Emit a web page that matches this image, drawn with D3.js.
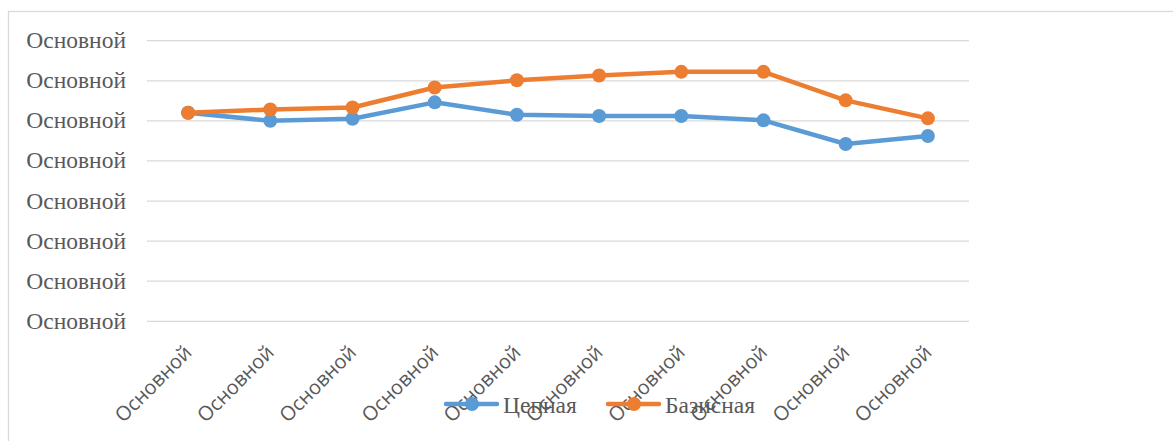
<!DOCTYPE html>
<html><head><meta charset="utf-8">
<script src="https://cdn.jsdelivr.net/npm/d3@7"></script>
<style>html,body{margin:0;padding:0;background:#fff;}svg{display:block;}</style>
</head><body>
<svg id="chart" width="1173" height="441"></svg>
<script>
const categories = ["c1","c2","c3","c4","c5","c6","c7","c8","c9","c10"];
const categoryLabels = ["Основной","Основной","Основной","Основной","Основной","Основной","Основной","Основной","Основной","Основной"];
const chainValues = [5.19, 4.99, 5.04, 5.45, 5.14, 5.11, 5.11, 5.00, 4.41, 4.61];
const baseValues  = [5.19, 5.27, 5.32, 5.82, 6.00, 6.12, 6.21, 6.21, 5.50, 5.05];
const yTicks = [0,1,2,3,4,5,6,7];
const yTickLabels = ["Основной","Основной","Основной","Основной","Основной","Основной","Основной","Основной"];
const seriesNames = ["Цепная","Базисная"];
const colors = ["#5B9BD5","#ED7D31"];

(function(){
const svg = d3.select("#chart");
svg.append("rect").attr("x",8.5).attr("y",11.5).attr("width",1200).attr("height",500)
  .attr("fill","#fff").attr("stroke","#d9d9d9").attr("stroke-width",1.3);

const pL=147, pR=969, pT=40.2, pB=320.8;
const x = d3.scaleBand().domain(categories).range([pL,pR]);
const y = d3.scaleLinear().domain([0,7]).range([pB,pT]);

const yAxis = svg.append("g").attr("transform",`translate(${pL},0)`)
  .call(d3.axisLeft(y).tickValues(yTicks).tickSize(-(pR-pL)).tickFormat((d,i)=>yTickLabels[i]));
yAxis.select(".domain").remove();
yAxis.selectAll("line").attr("stroke","#d9d9d9").attr("stroke-width",1.3);
yAxis.selectAll("text").attr("x",-21).attr("fill","#595959")
  .style("font-family","'Liberation Serif','Times New Roman',serif").style("font-size","23.5px");

const xAxis = svg.append("g").attr("transform",`translate(0,${pB})`)
  .call(d3.axisBottom(x).tickSize(0).tickFormat((d,i)=>categoryLabels[i]));
xAxis.select(".domain").remove();
xAxis.selectAll("text").attr("fill","#595959")
  .style("font-family","'Open Sans','DejaVu Sans',sans-serif").style("font-size","20px")
  .attr("text-anchor","end").attr("dy",0).attr("y",0)
  .attr("transform","translate(5,33) rotate(-45)");

const series = [chainValues, baseValues];
const line = d3.line().x((d,i)=>x(categories[i])+x.bandwidth()/2).y(d=>y(d));
series.forEach((vals,si)=>{
  svg.append("path").datum(vals).attr("d",line).attr("fill","none")
    .attr("stroke",colors[si]).attr("stroke-width",4.5).attr("stroke-linejoin","round").attr("stroke-linecap","round");
  svg.selectAll(".pt"+si).data(vals).enter().append("circle")
    .attr("cx",(d,i)=>x(categories[i])+x.bandwidth()/2).attr("cy",d=>y(d)).attr("r",7).attr("fill",colors[si]);
});

const legendY = 404;
const legendX = [444, 606];
seriesNames.forEach((name,i)=>{
  const g = svg.append("g").attr("transform",`translate(${legendX[i]},${legendY})`);
  g.append("line").attr("x1",2).attr("x2",53).attr("stroke",colors[i]).attr("stroke-width",4.5).attr("stroke-linecap","round");
  g.append("circle").attr("cx",28).attr("r",7).attr("fill",colors[i]);
  g.append("text").attr("x",59).attr("y",8.5).text(name).attr("fill","#595959")
    .style("font-family","'Liberation Serif','Times New Roman',serif").style("font-size","23.5px");
});
})();
</script>
</body></html>
